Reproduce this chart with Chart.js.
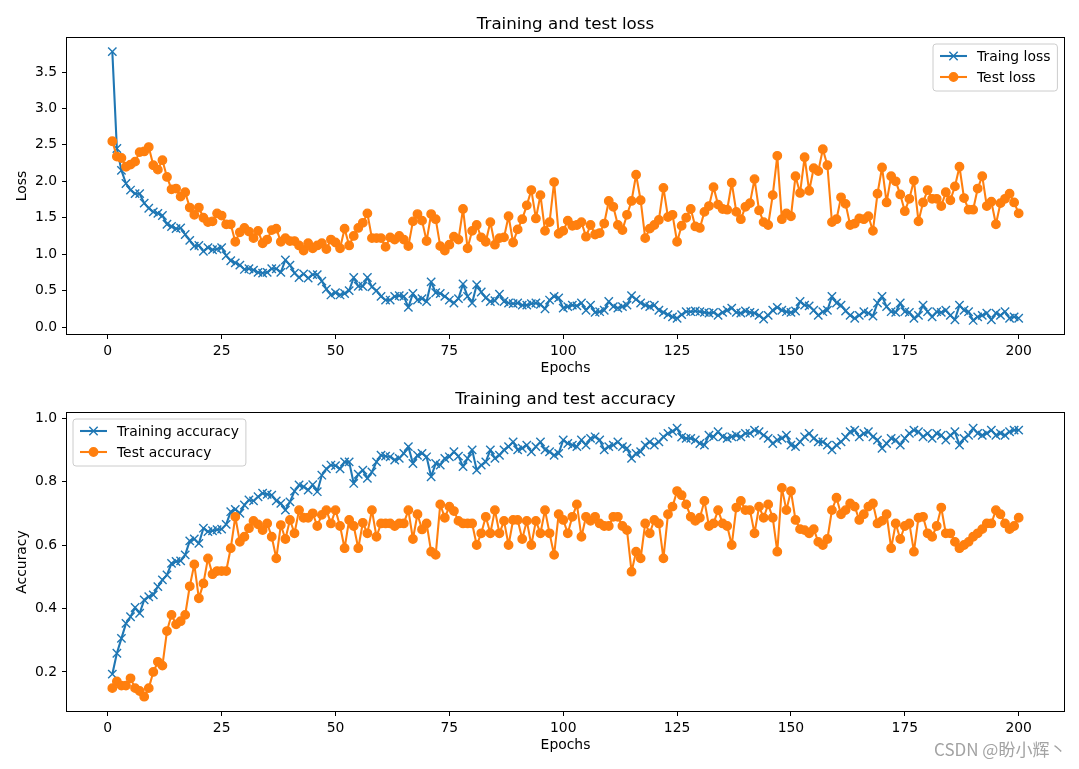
<!DOCTYPE html>
<html><head><meta charset="utf-8">
<script src="https://cdn.jsdelivr.net/npm/chart.js@4.4.1/dist/chart.umd.min.js"></script>
<style>
html,body{margin:0;padding:0;background:#fff;}
#wrap{position:relative;width:1079px;height:769px;overflow:hidden;background:#fff;}
canvas{position:absolute;left:0;}
#c1{top:0}
#c2{top:385px}
#wm{position:absolute;left:934px;top:736px;font:17px 'Noto Sans CJK SC','DejaVu Sans',sans-serif;color:#a3a3a3;white-space:nowrap;}
</style></head><body>
<div id="wrap">
<canvas id="c1" width="1079" height="385"></canvas>
<canvas id="c2" width="1079" height="384"></canvas>
<div id="wm">CSDN @盼小辉丶</div>
</div>
<script>
const epochs = Array.from({length: 200}, (_, i) => i + 1);

const trainLoss = [
3.78,2.45,2.15,1.97,1.88,1.83,1.83,1.70,1.63,1.58,
1.56,1.53,1.41,1.38,1.35,1.36,1.27,1.19,1.11,1.12,
1.04,1.09,1.06,1.07,1.09,0.98,0.91,0.88,0.85,0.79,
0.80,0.78,0.75,0.74,0.75,0.80,0.80,0.75,0.92,0.85,
0.74,0.68,0.73,0.67,0.72,0.72,0.63,0.52,0.44,0.47,
0.44,0.46,0.50,0.68,0.56,0.56,0.68,0.55,0.50,0.42,
0.37,0.37,0.42,0.43,0.42,0.27,0.46,0.37,0.39,0.35,
0.62,0.47,0.46,0.42,0.37,0.33,0.39,0.59,0.42,0.33,
0.58,0.48,0.40,0.35,0.36,0.45,0.35,0.33,0.32,0.33,
0.30,0.30,0.32,0.33,0.31,0.25,0.37,0.42,0.40,0.26,
0.28,0.30,0.29,0.33,0.23,0.30,0.20,0.21,0.23,0.35,
0.28,0.26,0.28,0.30,0.43,0.38,0.33,0.30,0.28,0.30,
0.23,0.20,0.17,0.14,0.12,0.17,0.21,0.21,0.22,0.21,
0.20,0.19,0.20,0.16,0.20,0.23,0.26,0.20,0.19,0.22,
0.20,0.19,0.16,0.11,0.16,0.23,0.27,0.23,0.21,0.20,
0.22,0.35,0.30,0.29,0.23,0.16,0.21,0.23,0.42,0.33,
0.30,0.22,0.16,0.12,0.16,0.21,0.19,0.15,0.33,0.42,
0.28,0.21,0.20,0.33,0.21,0.20,0.12,0.16,0.30,0.21,
0.14,0.21,0.20,0.23,0.16,0.10,0.30,0.23,0.21,0.09,
0.14,0.16,0.19,0.10,0.19,0.16,0.21,0.12,0.14,0.12];

const testLoss = [
2.55,2.34,2.32,2.20,2.23,2.27,2.40,2.41,2.47,2.22,
2.16,2.29,2.06,1.89,1.90,1.79,1.85,1.64,1.54,1.64,
1.50,1.44,1.45,1.56,1.53,1.41,1.41,1.17,1.30,1.36,
1.31,1.22,1.32,1.15,1.20,1.33,1.35,1.17,1.22,1.18,
1.18,1.12,1.05,1.15,1.08,1.12,1.15,1.07,1.20,1.16,
1.08,1.35,1.12,1.25,1.36,1.43,1.56,1.22,1.22,1.22,
1.10,1.23,1.20,1.25,1.20,1.11,1.45,1.55,1.46,1.18,
1.55,1.48,1.11,1.05,1.13,1.24,1.20,1.62,1.08,1.32,
1.40,1.23,1.17,1.44,1.13,1.22,1.23,1.52,1.16,1.34,
1.48,1.67,1.88,1.49,1.81,1.32,1.44,1.99,1.28,1.32,
1.46,1.39,1.40,1.44,1.24,1.40,1.27,1.29,1.42,1.73,
1.65,1.40,1.33,1.54,1.73,2.09,1.74,1.22,1.35,1.40,
1.47,1.91,1.51,1.54,1.17,1.39,1.50,1.62,1.38,1.36,
1.58,1.66,1.92,1.68,1.62,1.61,1.98,1.58,1.48,1.65,
1.70,2.03,1.60,1.44,1.40,1.81,2.35,1.48,1.56,1.52,
2.07,1.84,2.33,1.87,2.18,2.14,2.44,2.22,1.44,1.48,
1.78,1.69,1.40,1.42,1.49,1.48,1.52,1.32,1.83,2.19,
1.71,2.07,2.00,1.82,1.59,1.76,2.01,1.45,1.71,1.88,
1.76,1.76,1.66,1.85,1.74,1.93,2.20,1.77,1.61,1.61,
1.90,2.07,1.66,1.72,1.41,1.70,1.76,1.83,1.71,1.56];

const trainAcc = [
0.193,0.259,0.306,0.353,0.374,0.403,0.385,0.427,0.437,0.443,
0.469,0.490,0.506,0.542,0.548,0.550,0.569,0.613,0.619,0.605,
0.653,0.642,0.645,0.648,0.650,0.665,0.705,0.712,0.700,0.726,
0.742,0.739,0.752,0.763,0.760,0.757,0.739,0.731,0.710,0.736,
0.770,0.789,0.784,0.773,0.790,0.768,0.820,0.840,0.852,0.850,
0.840,0.862,0.862,0.794,0.823,0.836,0.810,0.830,0.862,0.883,
0.880,0.878,0.868,0.873,0.889,0.910,0.857,0.883,0.889,0.878,
0.815,0.857,0.852,0.873,0.878,0.894,0.880,0.847,0.873,0.900,
0.836,0.852,0.862,0.900,0.873,0.883,0.900,0.910,0.925,0.900,
0.905,0.915,0.894,0.910,0.925,0.900,0.894,0.883,0.889,0.931,
0.920,0.915,0.910,0.931,0.915,0.936,0.941,0.931,0.900,0.910,
0.915,0.925,0.910,0.905,0.873,0.889,0.894,0.915,0.925,0.915,
0.925,0.941,0.952,0.958,0.968,0.940,0.936,0.936,0.931,0.920,
0.915,0.946,0.941,0.957,0.941,0.936,0.941,0.946,0.941,0.952,
0.952,0.962,0.957,0.946,0.936,0.920,0.931,0.936,0.946,0.915,
0.910,0.925,0.941,0.952,0.936,0.925,0.925,0.915,0.900,0.915,
0.925,0.940,0.957,0.962,0.941,0.952,0.957,0.941,0.931,0.905,
0.920,0.936,0.931,0.915,0.936,0.952,0.962,0.957,0.941,0.952,
0.936,0.952,0.946,0.931,0.946,0.957,0.915,0.936,0.946,0.968,
0.952,0.946,0.952,0.962,0.946,0.952,0.946,0.957,0.962,0.962];

const testAcc = [
0.149,0.170,0.157,0.157,0.180,0.149,0.140,0.122,0.149,0.200,
0.232,0.220,0.329,0.380,0.350,0.360,0.380,0.470,0.539,0.432,
0.479,0.558,0.508,0.518,0.518,0.518,0.590,0.689,0.610,0.626,
0.653,0.676,0.665,0.647,0.668,0.626,0.558,0.663,0.619,0.679,
0.637,0.710,0.686,0.686,0.700,0.660,0.695,0.710,0.668,0.710,
0.660,0.590,0.679,0.660,0.590,0.670,0.637,0.710,0.626,0.668,
0.668,0.668,0.660,0.668,0.668,0.710,0.619,0.697,0.649,0.668,
0.579,0.569,0.728,0.686,0.721,0.707,0.676,0.668,0.668,0.668,
0.600,0.637,0.689,0.637,0.710,0.637,0.676,0.600,0.679,0.679,
0.619,0.676,0.600,0.676,0.637,0.710,0.637,0.569,0.697,0.679,
0.637,0.689,0.728,0.626,0.689,0.676,0.689,0.668,0.660,0.660,
0.689,0.689,0.660,0.647,0.516,0.579,0.558,0.668,0.637,0.679,
0.668,0.558,0.697,0.721,0.770,0.757,0.728,0.689,0.676,0.686,
0.739,0.660,0.668,0.710,0.668,0.660,0.600,0.718,0.739,0.710,
0.710,0.637,0.721,0.686,0.728,0.686,0.579,0.780,0.710,0.770,
0.679,0.650,0.647,0.637,0.650,0.610,0.600,0.619,0.710,0.749,
0.697,0.710,0.731,0.721,0.679,0.697,0.721,0.731,0.668,0.676,
0.697,0.590,0.668,0.619,0.660,0.668,0.579,0.686,0.689,0.637,
0.626,0.660,0.718,0.637,0.637,0.610,0.590,0.600,0.610,0.626,
0.637,0.650,0.668,0.668,0.710,0.697,0.668,0.650,0.660,0.686];

const epochTicks = [0, 25, 50, 75, 100, 125, 150, 175, 200];
const lossTicks = [0, 0.5, 1, 1.5, 2, 2.5, 3, 3.5];
const lossTickLabels = ['0.0','0.5','1.0','1.5','2.0','2.5','3.0','3.5'];
const accTicks = [0.2, 0.4, 0.6, 0.8, 1.0];
const accTickLabels = ['0.2','0.4','0.6','0.8','1.0'];

Chart.defaults.font.family = "'DejaVu Sans', sans-serif";
Chart.defaults.color = '#000';

const BLUE = '#1f77b4', ORANGE = '#ff7f0e';
const FS = 13.9;

function pts(arr) { return arr.map((v, i) => ({x: epochs[i], y: v})); }

const framePlugin = {
  id: 'frame',
  afterDatasetsDraw(chart) {
    const {ctx, chartArea: a} = chart;
    ctx.save();
    ctx.strokeStyle = '#000';
    ctx.lineWidth = 1;
    ctx.strokeRect(Math.round(a.left) - 0.5, Math.round(a.top) - 0.5,
                   Math.round(a.right - a.left) + 1, Math.round(a.bottom - a.top) + 1);
    ctx.restore();
  }
};

// axes title centred over the plotting area (as matplotlib does)
const axesTitle = {
  id: 'axesTitle',
  afterDraw(chart, args, opts) {
    const {ctx, chartArea: a} = chart;
    ctx.save();
    ctx.font = "16.7px 'DejaVu Sans'";
    ctx.fillStyle = '#000';
    ctx.textAlign = 'center';
    ctx.textBaseline = 'middle';
    ctx.fillText(opts.text, (a.left + a.right) / 2, a.top - opts.gap);
    ctx.restore();
  }
};

function drawMarker(ctx, d, x, y) {
  ctx.save();
  ctx.strokeStyle = d.pointBorderColor;
  ctx.fillStyle = d.pointBackgroundColor;
  ctx.lineWidth = d.pointBorderWidth;
  if (d.pointStyle === 'crossRot') {
    const o = Math.cos(Math.PI / 4) * d.pointRadius;
    ctx.beginPath();
    ctx.moveTo(x - o, y - o); ctx.lineTo(x + o, y + o);
    ctx.moveTo(x + o, y - o); ctx.lineTo(x - o, y + o);
    ctx.stroke();
  } else {
    ctx.beginPath();
    ctx.arc(x, y, d.pointRadius, 0, Math.PI * 2);
    ctx.fill(); ctx.stroke();
  }
  ctx.restore();
}

const mplLegend = {
  id: 'mplLegend',
  afterDraw(chart, args, opts) {
    const {ctx, chartArea: a} = chart;
    const items = opts.items.map(i => chart.data.datasets[i]);
    ctx.save();
    ctx.font = FS + "px 'DejaVu Sans'";
    const tw = Math.max(...items.map(d => ctx.measureText(d.label).width));
    const pad = 7, handle = 27, gap = 10, rowH = 21;
    const w = pad + handle + gap + tw + pad;
    const h = 47;
    const x0 = opts.corner === 'ne' ? Math.round(a.right - 7 - w) : Math.round(a.left + 6);
    const y0 = Math.round(a.top + 6);
    const r = 3;
    ctx.beginPath();
    ctx.moveTo(x0 + r, y0);
    ctx.lineTo(x0 + w - r, y0); ctx.arcTo(x0 + w, y0, x0 + w, y0 + r, r);
    ctx.lineTo(x0 + w, y0 + h - r); ctx.arcTo(x0 + w, y0 + h, x0 + w - r, y0 + h, r);
    ctx.lineTo(x0 + r, y0 + h); ctx.arcTo(x0, y0 + h, x0, y0 + h - r, r);
    ctx.lineTo(x0, y0 + r); ctx.arcTo(x0, y0, x0 + r, y0, r);
    ctx.closePath();
    ctx.fillStyle = 'rgba(255,255,255,0.8)';
    ctx.fill();
    ctx.strokeStyle = '#cccccc';
    ctx.lineWidth = 1;
    ctx.stroke();
    items.forEach((d, k) => {
      const cy = y0 + 12 + k * rowH;
      const lx = x0 + pad;
      ctx.strokeStyle = d.borderColor;
      ctx.lineWidth = d.borderWidth;
      ctx.beginPath(); ctx.moveTo(lx, cy); ctx.lineTo(lx + handle, cy); ctx.stroke();
      drawMarker(ctx, d, lx + handle / 2, cy);
      ctx.fillStyle = '#000';
      ctx.textBaseline = 'middle';
      ctx.textAlign = 'left';
      ctx.fillText(d.label, lx + handle + gap, cy + 1);
    });
    ctx.restore();
  }
};

function series(label, values, color, style) {
  return {
    label, data: pts(values), borderColor: color, backgroundColor: color,
    borderWidth: 2.08, borderJoinStyle: 'round', tension: 0, fill: false,
    pointStyle: style, pointRadius: style === 'crossRot' ? 5.9 : 4.2,
    pointHoverRadius: style === 'crossRot' ? 5.9 : 4.2,
    pointBorderWidth: 1.4, pointBorderColor: color, pointBackgroundColor: color
  };
}

function axisCommon() {
  return {
    grid: {drawOnChartArea: false, drawTicks: true, tickLength: 5, color: '#000', lineWidth: 1},
    border: {display: false}
  };
}

function makeChart(id, o) {
  const ds1 = series(o.labels[0], o.s1, BLUE, 'crossRot'); ds1.order = 1;
  const ds2 = series(o.labels[1], o.s2, ORANGE, 'circle'); ds2.order = 0;
  return new Chart(document.getElementById(id), {
    type: 'line',
    data: {datasets: [ds1, ds2]},
    options: {
      responsive: false, animation: false, devicePixelRatio: 1,
      events: [],
      layout: {padding: {left: 0, right: 15, top: o.padTop, bottom: o.padBottom}},
      plugins: {
        legend: {display: false},
        tooltip: {enabled: false},
        title: {display: false},
        axesTitle: {text: o.title, gap: 13},
        mplLegend: {corner: o.corner, items: [0, 1]}
      },
      scales: {
        x: Object.assign(axisCommon(), {
          type: 'linear', min: -8.95, max: 209.95,
          afterBuildTicks: s => { s.ticks = epochTicks.map(v => ({value: v})); },
          afterFit: s => { s.height = 45; },
          ticks: {font: {size: FS}, padding: 4, maxRotation: 0, autoSkip: false,
                  callback: v => String(v)},
          title: {display: true, text: 'Epochs', font: {size: FS}, padding: {top: 0, bottom: 2}}
        }),
        y: Object.assign(axisCommon(), {
          type: 'linear', min: o.ymin, max: o.ymax,
          afterBuildTicks: s => { s.ticks = o.yTicks.map(v => ({value: v})); },
          afterFit: s => { s.width = 67; },
          ticks: {font: {size: FS}, padding: 5, autoSkip: false,
                  callback: (v, i) => o.yLabels[i]},
          title: {display: true, text: o.ytitle, font: {size: FS}, padding: {top: 14, bottom: 0}}
        })
      }
    },
    plugins: [framePlugin, axesTitle, mplLegend]
  });
}

makeChart('c1', {
  labels: ['Traing loss', 'Test loss'], s1: trainLoss, s2: testLoss,
  title: 'Training and test loss', padTop: 38, padBottom: 6,
  ymin: -0.096, ymax: 3.967, yTicks: lossTicks, yLabels: lossTickLabels,
  ytitle: 'Loss', corner: 'ne'
});
makeChart('c2', {
  labels: ['Training accuracy', 'Test accuracy'], s1: trainAcc, s2: testAcc,
  title: 'Training and test accuracy', padTop: 28, padBottom: 13,
  ymin: 0.077, ymax: 1.016, yTicks: accTicks, yLabels: accTickLabels,
  ytitle: 'Accuracy', corner: 'nw'
});
</script>
</body></html>
